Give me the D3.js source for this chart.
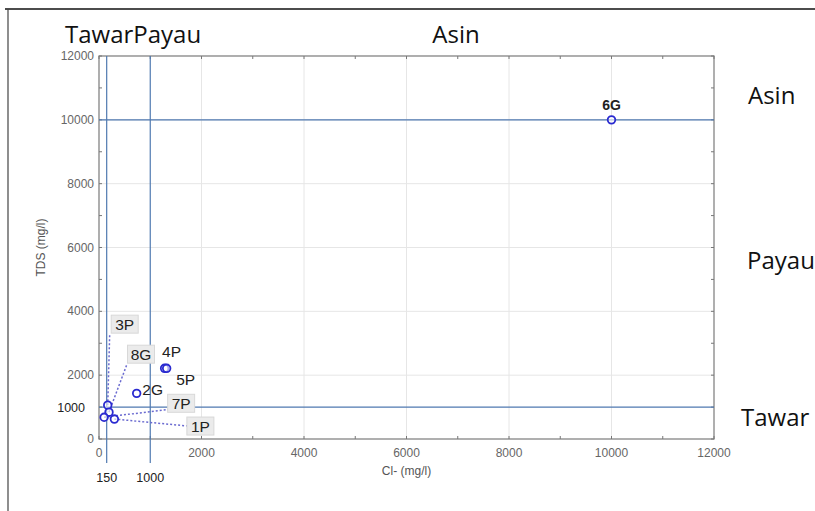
<!DOCTYPE html>
<meta charset="utf-8">
<title>TDS vs Cl-</title>
<style>
body { margin: 0; background: #fff; font-family: "Liberation Sans", Arial, sans-serif; }
svg { display: block; }
.tick-label { fill: #666; font-size: 12px; }
.axis-title { fill: #555; font-size: 12px; }
.zone { font-family: "Open Sans", sans-serif; font-size: 24px; fill: #111; }
.note { fill: #222; font-size: 12.5px; }
.pt-label { fill: #222; font-size: 15.5px; }
</style>
<body>
<div id="graph"></div>
</body>
<script src="https://cdn.jsdelivr.net/npm/d3@7"></script>
<script>

// samples
var names = ['3P', '8G', '7P', '1P', '2G', '4P', '5P', '6G'],
    cl    = [170, 195, 100, 300, 735, 1280, 1320, 10000],
    tds   = [1060, 840, 680, 625, 1430, 2215, 2215, 10000];

var xTicks = [0, 2000, 4000, 6000, 8000, 10000, 12000],
    yTicks = [0, 2000, 4000, 6000, 8000, 10000, 12000],
    minorTicks = d3.range(0, 12001, 1000);

// classification limits
var clLimits = [150, 1000],
    tdsLimits = [1000, 10000];

// label placement (px from point), boxed = grey tag with dotted leader
var labelPos = {
  '3P': {dx: 17, dy: -81, box: true, lx: -15, ly: 9},
  '8G': {dx: 32, dy: -58, box: true, lx: -14, ly: 10},
  '7P': {dx: 77, dy: -14, box: true, lx: -12, ly: 6},
  '1P': {dx: 86, dy: 7, box: true, lx: -12, ly: 0},
  '2G': {dx: 16, dy: 2},
  '4P': {dx: 7, dy: -11},
  '5P': {dx: 19, dy: 17},
  '6G': {dx: 0, dy: -10, bold: true}
};

var W = 815, H = 511,
    m = {left: 99, right: 101, top: 56, bottom: 72};

var svg = d3.select('#graph').append('svg').attr('width', W).attr('height', H);

// outer frame
svg.append('line').attr('x1', 5).attr('x2', W).attr('y1', 9).attr('y2', 9)
  .attr('stroke', '#111').attr('stroke-width', 1.5);
svg.append('line').attr('x1', 8).attr('x2', 8).attr('y1', 9).attr('y2', H)
  .attr('stroke', '#444').attr('stroke-width', 1.2);

var x = d3.scaleLinear().domain([0, 12000]).range([m.left, W - m.right]),
    y = d3.scaleLinear().domain([0, 12000]).range([H - m.bottom, m.top]);

var x0 = x.range()[0], x1 = x.range()[1], y0 = y.range()[0], y1 = y.range()[1];

// grid
svg.selectAll('line.gx').data(xTicks.slice(1, -1)).enter().append('line')
  .attr('x1', x).attr('x2', x).attr('y1', y0).attr('y2', y1)
  .attr('stroke', '#e6e6e6');
svg.selectAll('line.gy').data(yTicks.slice(1, -1)).enter().append('line')
  .attr('y1', y).attr('y2', y).attr('x1', x0).attr('x2', x1)
  .attr('stroke', '#e6e6e6');

// frame ticks on four sides
var tk = 3;
minorTicks.forEach(function(v) {
  [[x(v), y0, x(v), y0 - tk], [x(v), y1, x(v), y1 + tk],
   [x0, y(v), x0 + tk, y(v)], [x1, y(v), x1 - tk, y(v)]].forEach(function(s) {
    svg.append('line').attr('x1', s[0]).attr('y1', s[1]).attr('x2', s[2]).attr('y2', s[3])
      .attr('stroke', '#777');
  });
});

svg.append('rect').attr('x', x0).attr('y', y1).attr('width', x1 - x0).attr('height', y0 - y1)
  .attr('fill', 'none').attr('stroke', '#7a7a7a').attr('stroke-width', 1.2);

// tick labels
svg.selectAll('text.xt').data(xTicks).enter().append('text')
  .attr('class', 'tick-label').attr('x', x).attr('y', y0 + 18)
  .attr('text-anchor', 'middle').text(function(d) { return d; });
svg.selectAll('text.yt').data(yTicks).enter().append('text')
  .attr('class', 'tick-label').attr('x', x0 - 5).attr('y', function(d) { return y(d) + 4; })
  .attr('text-anchor', 'end').text(function(d) { return d; });

svg.append('text').attr('class', 'axis-title')
  .attr('x', (x0 + x1) / 2).attr('y', y0 + 36).attr('text-anchor', 'middle').text('Cl- (mg/l)');
svg.append('text').attr('class', 'axis-title')
  .attr('transform', 'translate(45,' + ((y0 + y1) / 2) + ') rotate(-90)')
  .attr('text-anchor', 'middle').text('TDS (mg/l)');

// limit lines
var limColor = '#4f79b0';
svg.selectAll('line.vl').data(clLimits).enter().append('line')
  .attr('x1', x).attr('x2', x).attr('y1', y1).attr('y2', y0 + 24)
  .attr('stroke', limColor).attr('stroke-width', 1.2);
svg.selectAll('text.vl').data(clLimits).enter().append('text')
  .attr('class', 'note').attr('x', x).attr('y', y0 + 43)
  .attr('text-anchor', 'middle').text(function(d) { return d; });
svg.selectAll('line.hl').data(tdsLimits).enter().append('line')
  .attr('y1', y).attr('y2', y).attr('x1', x0).attr('x2', x1)
  .attr('stroke', limColor).attr('stroke-width', 1.2);
svg.append('text').attr('class', 'note').attr('x', x0 - 14).attr('y', y(tdsLimits[0]) + 5)
  .attr('text-anchor', 'end').text(tdsLimits[0]);

// zone names
svg.append('text').attr('class', 'zone').attr('x', 65).attr('y', 43).text('TawarPayau');
svg.append('text').attr('class', 'zone').attr('x', 456).attr('y', 43).attr('text-anchor', 'middle').text('Asin');
svg.append('text').attr('class', 'zone').attr('x', 748).attr('y', 104).text('Asin');
svg.append('text').attr('class', 'zone').attr('x', 747).attr('y', 269).text('Payau');
svg.append('text').attr('class', 'zone').attr('x', 741).attr('y', 426).text('Tawar');

// points + labels
var pts = names.map(function(n, i) { return {name: n, px: x(cl[i]), py: y(tds[i])}; });

var lab = svg.append('g');
pts.forEach(function(p) {
  var o = labelPos[p.name], tx = p.px + o.dx, ty = p.py + o.dy;
  if (o.box) {
    var bw = 27, bh = 18;
    lab.append('line').attr('x1', p.px).attr('y1', p.py)
      .attr('x2', tx + o.lx).attr('y2', ty + o.ly)
      .attr('stroke', '#6a6ad0').attr('stroke-width', 1.5).attr('stroke-dasharray', '2,2');
    lab.append('rect').attr('x', tx - bw / 2).attr('y', ty - bh / 2).attr('width', bw).attr('height', bh)
      .attr('fill', '#ebebeb').attr('stroke', '#d8d8d8');
    lab.append('text').attr('class', 'pt-label').attr('x', tx).attr('y', ty + 6)
      .attr('text-anchor', 'middle').text(p.name);
  } else {
    lab.append('text').attr('class', 'pt-label').attr('x', tx).attr('y', ty)
      .attr('text-anchor', 'middle')
      .style('font-size', o.bold ? '14px' : null).style('font-weight', o.bold ? 'bold' : null)
      .text(p.name);
  }
});

svg.selectAll('circle.pt').data(pts).enter().append('circle')
  .attr('cx', function(d) { return d.px; }).attr('cy', function(d) { return d.py; })
  .attr('r', 3.8).attr('fill', '#fff').attr('fill-opacity', 0.6)
  .attr('stroke', '#2a2ad0').attr('stroke-width', 1.8);

</script>
